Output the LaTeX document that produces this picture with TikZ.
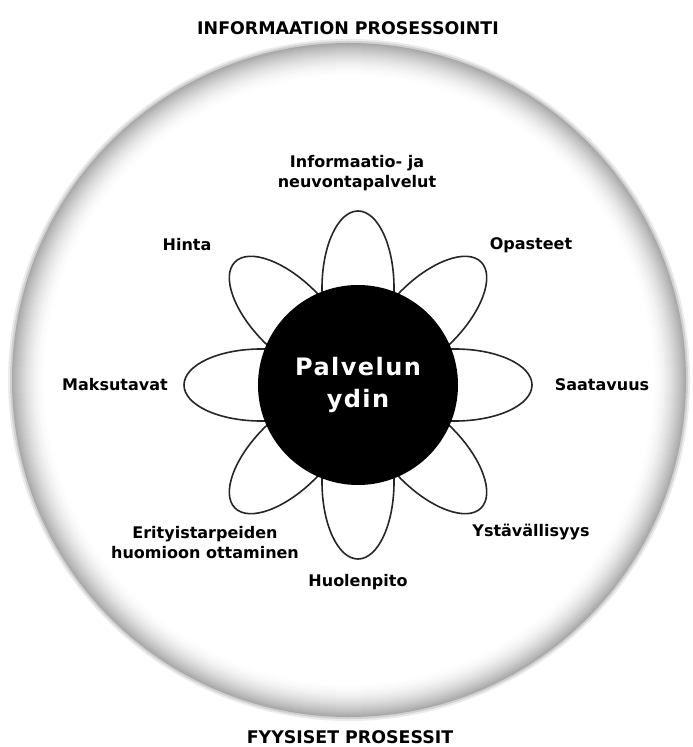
\documentclass[tikz,border=0pt]{standalone}
\usepackage{fontspec}
\setmainfont{DejaVu Sans}
\usetikzlibrary{positioning,calc}
\newcommand{\lblfont}{\bfseries\fontsize{8}{10}\selectfont}
\newcommand{\headfont}{\bfseries\fontsize{8.7}{11}\selectfont}
\newcommand{\corefont}{\bfseries\fontsize{12}{16}\selectfont\addfontfeatures{LetterSpace=6}}
\tikzset{%
  % shapes
  core/.style={circle, fill=black, text=white, minimum size=100pt, inner sep=0pt, align=center, font=\corefont},
  petal/.style={draw=black!85, line width=0.8pt},
  % texts
  lbl/.style={align=center, font=\lblfont, inner sep=1pt},
  head/.style={font=\headfont, inner sep=1pt},
}

\begin{document}
\begin{tikzpicture}[x=0.5pt, y=-0.5pt]
  \useasboundingbox (0,0) rectangle (692,747);
  \coordinate (rim) at (349,380);
  \coordinate (ctr) at (358,385);

  % shaded outer ring, soft outside edge first
  \fill[black!8] (rim) circle[radius=341];
  \fill[black!18] (rim) circle[radius=339];
  \foreach \k in {0,...,34}{
    \pgfmathsetmacro\g{34*(1-\k/34)^1.8}
    \fill[black!\g] (rim) circle[radius=337-\k];
  }

  % petals
  \foreach \a in {0,45,...,315}{
    \begin{scope}[shift={(ctr)}, rotate=\a]
      \draw[petal] (97,0) ellipse[x radius=77, y radius=36];
    \end{scope}
  }
  \node[core] (core) at (ctr) {Palvelun\\ydin};

  \node[head] (info) at (348,28) {INFORMAATION PROSESSOINTI};
  \node[head] (phys) at (350,737) {FYYSISET PROSESSIT};

  \node[lbl] (neuvo) at (357,173) {Informaatio- ja\\neuvontapalvelut};
  \node[lbl] (hinta) at (187,245) {Hinta};
  \node[lbl] (opas) at (531,245) {Opasteet};
  \node[lbl] (maksu) at (115,385) {Maksutavat};
  \node[lbl] (saata) at (602,385) {Saatavuus};
  \node[lbl] (erit) at (205,543) {Erityistarpeiden\\huomioon ottaminen};
  \node[lbl] (ystav) at (531,532) {Ystävällisyys};
  \node[lbl] (huole) at (358,582) {Huolenpito};
\end{tikzpicture}
\end{document}
